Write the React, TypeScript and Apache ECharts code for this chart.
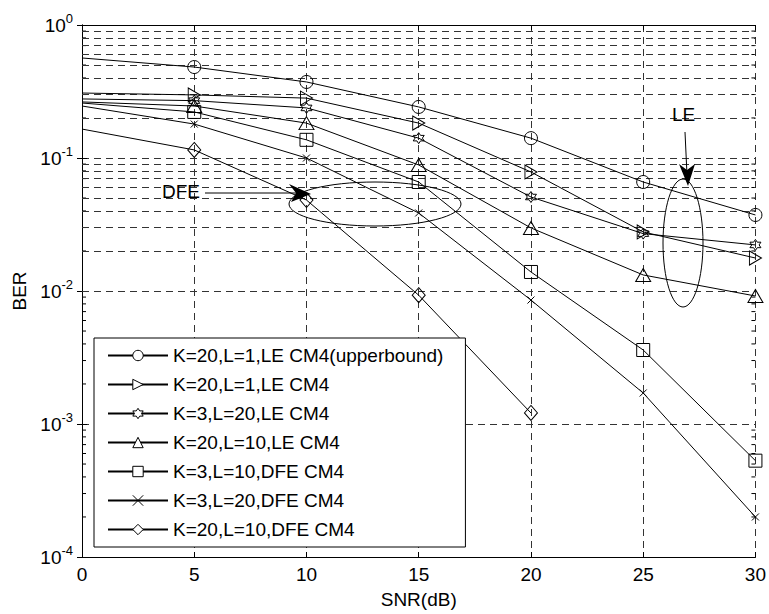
import React, { useEffect, useRef } from "react";
import * as echarts from "echarts";

const snr = [0, 5, 10, 15, 20, 25, 30];
const snrDFE2 = [0, 5, 10, 15, 20];

const seriesNames = [
  "K=20,L=1,LE CM4(upperbound)",
  "K=20,L=1,LE CM4",
  "K=3,L=20,LE CM4",
  "K=20,L=10,LE CM4",
  "K=3,L=10,DFE CM4",
  "K=3,L=20,DFE CM4",
  "K=20,L=10,DFE CM4",
];

const berUpper = [0.565, 0.483, 0.373, 0.242, 0.141, 0.066, 0.0373];
const berLE_K20L1 = [0.308, 0.298, 0.282, 0.183, 0.0785, 0.0278, 0.0177];
const berLE_K3L20 = [0.278, 0.27, 0.238, 0.141, 0.0509, 0.027, 0.0222];
const berLE_K20L10 = [0.264, 0.246, 0.183, 0.0886, 0.0298, 0.0132, 0.00917];
const berDFE_K3L10 = [0.259, 0.222, 0.137, 0.066, 0.0139, 0.0036, 0.00053];
const berDFE_K3L20 = [0.246, 0.18, 0.1, 0.0386, 0.00855, 0.00171, 0.0002];
const berDFE_K20L10 = [0.165, 0.115, 0.0483, 0.0093, 0.00121];

const decades = [1e-4, 1e-3, 1e-2, 1e-1];
const minorMultipliers = [2, 3, 4, 5, 6, 7, 8, 9];

const symTriRight = "path://M0,0 L10,5 L0,10 Z";
const symHex =
  "path://M5,0 L6.44,2.5 L9.33,2.5 L7.89,5 L9.33,7.5 L6.44,7.5 L5,10 L3.56,7.5 L0.67,7.5 L2.11,5 L0.67,2.5 L3.56,2.5 Z";
const symX = "path://M0,0 L10,10 M10,0 L0,10";
const symDiamond = "path://M5,0 L10,5 L5,10 L0,5 Z";

const symbols = ["circle", symTriRight, symHex, "triangle", "rect", symX, symDiamond];
const symbolSizes: (number | number[])[] = [13, [12, 14], 11, [15, 13], 13, 7, [13, 15]];
const seriesX = [snr, snr, snr, snr, snr, snr, snrDFE2];
const seriesY = [berUpper, berLE_K20L1, berLE_K3L20, berLE_K20L10, berDFE_K3L10, berDFE_K3L20, berDFE_K20L10];

const FONT = "Liberation Sans, Arial, Helvetica, sans-serif";
const FS = 19;

export default function App() {
  const ref = useRef<HTMLDivElement>(null);
  useEffect(() => {
    if (!ref.current) return;
    const chart = echarts.init(ref.current, null, { renderer: "svg" });

    const minorValues: number[] = [];
    decades.forEach((d) => minorMultipliers.forEach((m) => minorValues.push(d * m)));

    const series: any[] = seriesNames.map((name, i) => ({
      name,
      type: "line",
      symbol: symbols[i],
      symbolSize: symbolSizes[i],
      showAllSymbol: true,
      clip: false,
      data: seriesY[i].map((v, j) =>
        j === 0 ? { value: [seriesX[i][j], v], symbol: "none" } : [seriesX[i][j], v]
      ),
      lineStyle: { color: "#000", width: 1 },
      itemStyle: { color: "rgba(255,255,255,0)", borderColor: "#000", borderWidth: 1 },
      emphasis: { disabled: true },
      z: 5,
    }));

    series.push({
      name: "grid-minor",
      type: "line",
      data: [],
      silent: true,
      markLine: {
        silent: true,
        symbol: "none",
        label: { show: false },
        lineStyle: { color: "#333", width: 1, type: [7, 5] },
        data: minorValues.map((v) => ({ yAxis: v })),
      },
      z: 1,
    });

    series.push({
      name: "minor-ticks",
      type: "custom",
      silent: true,
      data: minorValues.map((v) => [0, v]),
      renderItem: (params: any, api: any) => {
        const cs = params.coordSys;
        const y = api.coord([0, api.value(1)])[1];
        return {
          type: "group",
          children: [
            { type: "line", shape: { x1: cs.x, y1: y, x2: cs.x + 4, y2: y }, style: { stroke: "#000", lineWidth: 1 } },
            { type: "line", shape: { x1: cs.x + cs.width - 4, y1: y, x2: cs.x + cs.width, y2: y }, style: { stroke: "#000", lineWidth: 1 } },
          ],
        };
      },
      z: 3,
    });

    chart.setOption({
      animation: false,
      backgroundColor: "#fff",
      textStyle: { fontFamily: FONT },
      grid: { left: 82, top: 25, right: 10, bottom: 57, containLabel: false },
      xAxis: [
        {
          type: "value",
          min: 0,
          max: 30,
          interval: 5,
          name: "SNR(dB)",
          nameLocation: "middle",
          nameGap: 33,
          nameTextStyle: { fontSize: FS, color: "#000", fontFamily: FONT },
          axisLine: { lineStyle: { color: "#000", width: 1 } },
          axisTick: { inside: true, length: 5, lineStyle: { color: "#000" } },
          axisLabel: { fontSize: FS, color: "#000", margin: 8, fontFamily: FONT },
          splitLine: { show: true, lineStyle: { color: "#333", type: [7, 5], width: 1 } },
        },
        {
          type: "value",
          position: "top",
          min: 0,
          max: 30,
          interval: 5,
          axisLine: { lineStyle: { color: "#000", width: 1 } },
          axisTick: { inside: true, length: 5, lineStyle: { color: "#000" } },
          axisLabel: { show: false },
          splitLine: { show: false },
        },
      ],
      yAxis: [
        {
          type: "log",
          logBase: 10,
          min: 1e-4,
          max: 1,
          name: "BER",
          nameLocation: "middle",
          nameGap: 53,
          nameTextStyle: { fontSize: FS, color: "#000", fontFamily: FONT },
          axisLine: { lineStyle: { color: "#000", width: 1 } },
          axisTick: { inside: true, length: 5, lineStyle: { color: "#000" } },
          axisLabel: {
            margin: 9,
            formatter: (v: number) => `{b|10}{s|${Math.round(Math.log10(v))}}`,
            rich: {
              b: { fontSize: FS, color: "#000", fontFamily: FONT },
              s: { fontSize: 13, color: "#000", fontFamily: FONT, padding: [0, 0, 14, 0] },
            },
          },
          splitLine: { show: true, lineStyle: { color: "#333", type: [7, 5], width: 1 } },
        },
        {
          type: "log",
          logBase: 10,
          min: 1e-4,
          max: 1,
          position: "right",
          axisLine: { lineStyle: { color: "#000", width: 1 } },
          axisTick: { inside: true, length: 5, lineStyle: { color: "#000" } },
          axisLabel: { show: false },
          splitLine: { show: false },
        },
      ],
      legend: {
        data: seriesNames.map((n) => ({
          name: n,
          itemStyle: { color: "#fff", borderColor: "#000", borderWidth: 1 },
        })),
        orient: "vertical",
        left: 94,
        top: 338,
        itemWidth: 60,
        itemHeight: 13,
        itemGap: 10,
        padding: [8, 22, 8, 13],
        borderColor: "#000",
        borderWidth: 1,
        backgroundColor: "#fff",
        selectedMode: false,
        textStyle: { fontSize: FS, color: "#000", fontFamily: FONT },
        z: 10,
      },
      graphic: [
        { type: "text", left: 162, top: 182, style: { text: "DFE", fontSize: FS, fill: "#000", fontFamily: FONT }, z: 20 },
        { type: "line", shape: { x1: 205, y1: 193, x2: 300, y2: 193 }, style: { stroke: "#000", lineWidth: 1 }, z: 20 },
        { type: "polygon", shape: { points: [[289, 184], [311, 194], [291, 202], [296, 193]] }, style: { fill: "#000" }, z: 20 },
        { type: "ellipse", shape: { cx: 375, cy: 204, rx: 86, ry: 22 }, style: { fill: "none", stroke: "#000", lineWidth: 1 }, z: 20 },
        { type: "text", left: 672, top: 105, style: { text: "LE", fontSize: FS, fill: "#000", fontFamily: FONT }, z: 20 },
        { type: "line", shape: { x1: 685, y1: 132, x2: 687, y2: 175 }, style: { stroke: "#000", lineWidth: 1 }, z: 20 },
        { type: "polygon", shape: { points: [[679, 164], [688, 186], [695, 164], [687, 170]] }, style: { fill: "#000" }, z: 20 },
        { type: "ellipse", shape: { cx: 683, cy: 243, rx: 20, ry: 64 }, style: { fill: "none", stroke: "#000", lineWidth: 1 }, z: 20 },
      ],
      series,
    });
    return () => chart.dispose();
  }, []);
  return <div ref={ref} style={{ position: "absolute", left: 0, top: 0, width: 769, height: 614 }} />;
}
